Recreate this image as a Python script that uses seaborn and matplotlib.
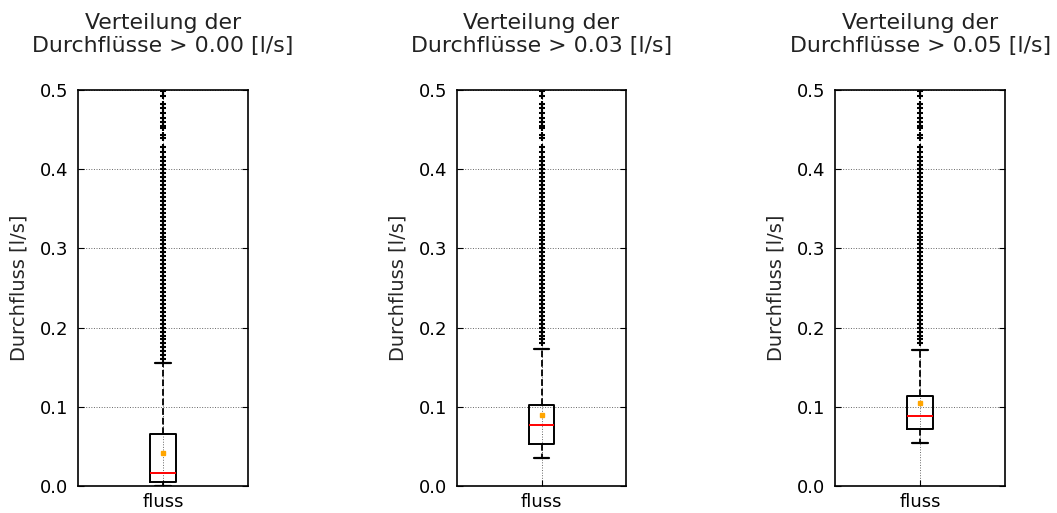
import matplotlib
matplotlib.use("Agg")
import matplotlib.pyplot as plt
import seaborn as sns

# Schwellwerte und Boxplot-Kennwerte je Panel
thresholds = ["0.00", "0.03", "0.05"]
q1 = [0.0054, 0.053, 0.072]
median = [0.0168, 0.077, 0.088]
q3 = [0.0653, 0.102, 0.114]
whis_lo = [0.0, 0.036, 0.054]
whis_hi = [0.155, 0.173, 0.172]
means = [0.042, 0.090, 0.105]
box_label = "fluss"

# Ausreisser: dichte Saeule oberhalb der Whisker, duenner bis 0.5
dense_fliers = [0.160, 0.165, 0.170, 0.175, 0.180, 0.185, 0.190, 0.195,
                0.200, 0.205, 0.210, 0.215, 0.220, 0.225, 0.230, 0.235,
                0.240, 0.245, 0.250, 0.255, 0.260, 0.265, 0.270, 0.275,
                0.280, 0.285, 0.290, 0.295, 0.300, 0.305, 0.310, 0.315,
                0.320, 0.325, 0.330, 0.335, 0.340, 0.345, 0.350, 0.355,
                0.360, 0.365, 0.370, 0.375, 0.380, 0.385, 0.390, 0.395,
                0.400]
sparse_fliers = [0.405, 0.410, 0.416, 0.422, 0.428, 0.439, 0.443, 0.452,
                 0.455, 0.459, 0.464, 0.471, 0.477, 0.482, 0.492, 0.499]

sns.set_style("white")
plt.rcParams.update({
    "font.family": ["DejaVu Sans"],
    "font.size": 13,
    "axes.edgecolor": "black",
    "axes.linewidth": 1.2,
    "xtick.direction": "in",
    "ytick.direction": "in",
    "xtick.top": True,
    "ytick.right": True,
    "xtick.bottom": True,
    "ytick.left": True,
    "xtick.major.size": 4,
    "ytick.major.size": 4,
    "xtick.major.pad": 5,
    "ytick.major.pad": 7,
    "xtick.labelsize": 13,
    "ytick.labelsize": 13,
    "xtick.color": "black",
    "ytick.color": "black",
    "text.color": "#222222",
})

fig, axes = plt.subplots(1, 3, figsize=(10.57, 5.13), dpi=100)
fig.subplots_adjust(left=0.0738, right=0.9508, bottom=0.0526, top=0.8246,
                    wspace=1.23)

for i, ax in enumerate(axes):
    fl = [v for v in dense_fliers if v > whis_hi[i] + 0.003] + sparse_fliers
    stats = [{
        "label": box_label,
        "q1": q1[i], "med": median[i], "q3": q3[i],
        "whislo": whis_lo[i], "whishi": whis_hi[i],
        "mean": means[i], "fliers": fl,
    }]
    ax.bxp(stats, positions=[1], widths=0.15, capwidths=0.09,
           showmeans=True, patch_artist=False,
           boxprops=dict(color="black", linewidth=1.4),
           whiskerprops=dict(color="black", linestyle="--", linewidth=1.3),
           capprops=dict(color="black", linewidth=1.6),
           medianprops=dict(color="red", linewidth=1.4),
           meanprops=dict(marker="s", markersize=2.5, markerfacecolor="orange",
                          markeredgecolor="orange"),
           flierprops=dict(marker="+", markersize=4, markeredgecolor="black",
                           markeredgewidth=1.5))
    ax.set_xlim(0.5, 1.5)
    ax.set_ylim(0.0, 0.5)
    ax.set_yticks([0.0, 0.1, 0.2, 0.3, 0.4, 0.5])
    ax.set_yticklabels(["0.0", "0.1", "0.2", "0.3", "0.4", "0.5"])
    ax.grid(True, color="black", linestyle=":", linewidth=0.7, alpha=0.6)
    ax.set_axisbelow(True)
    ax.set_ylabel("Durchfluss [l/s]", fontsize=14, labelpad=8)
    ax.set_title("Verteilung der\nDurchflüsse > %s [l/s]" % thresholds[i],
                 fontsize=15.8, pad=27)
    for s in ax.spines.values():
        s.set_visible(True)

fig.savefig("out.png", dpi=100)
